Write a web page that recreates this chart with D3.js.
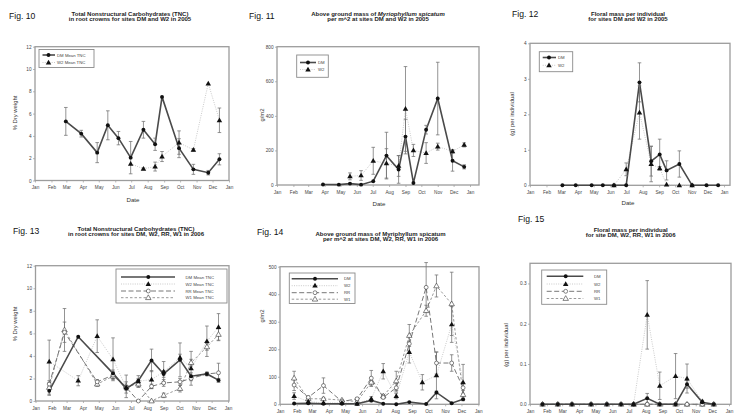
<!DOCTYPE html>
<html>
<head>
<meta charset="utf-8">
<script src="https://cdn.jsdelivr.net/npm/d3@7"></script>
<style>
  body { margin: 0; background: #fff; }
  svg { display: block; font-family: "Liberation Sans", Arial, sans-serif; }
</style>
</head>
<body>
<svg id="chart" width="745" height="417"></svg>
<script>
// ---- Fig 10: TNC in root crowns, 2005 ----
var fig10DMDates = ["2005-02-28","2005-03-29","2005-04-28","2005-05-18","2005-06-07","2005-06-30","2005-07-24","2005-08-15","2005-08-28","2005-09-29","2005-10-26","2005-11-23","2005-12-14"];
var fig10DM   = [5.3, 4.2, 2.5, 4.95, 3.8, 2.05, 4.55, 3.25, 7.5, 2.9, 1.0, 0.7, 1.9];
var fig10DMSE = [1.25, 0.3, 0.9, 1.3, 0.6, 1.45, 0.75, 0.55, 0, 0.85, 0.45, 0.2, 0.5];
var fig10W2Dates = ["2005-06-30","2005-07-24","2005-08-15","2005-08-28","2005-09-29","2005-10-26","2005-11-23","2005-12-14"];
var fig10W2   = [1.5, 1.05, 1.25, 2.15, 3.4, 2.75, 8.7, 5.4];
var fig10W2SE = [0, 0.08, 0.4, 0.45, 1.05, 0.12, 0, 1.1];

// ---- Fig 11: above ground mass, 2005 ----
var fig11DMDates = ["2005-03-29","2005-04-28","2005-05-19","2005-06-09","2005-07-02","2005-07-27","2005-08-19","2005-09-01","2005-09-16","2005-10-10","2005-11-01","2005-11-29","2005-12-21"];
var fig11DM   = [3, 2, 8, 2, 22, 170, 90, 280, 12, 320, 500, 140, 105];
var fig11DMSE = [0, 0, 0, 0, 0, 135, 80, 100, 0, 25, 210, 60, 12];
var fig11W2Dates = ["2005-05-19","2005-06-09","2005-07-02","2005-07-27","2005-08-19","2005-09-01","2005-09-16","2005-10-10","2005-11-01","2005-11-29","2005-12-21"];
var fig11W2   = [50, 55, 140, 125, 110, 440, 200, 185, 222, 195, 232];
var fig11W2SE = [20, 28, 78, 85, 60, 245, 35, 60, 20, 10, 12];

// ---- Fig 12: floral mass, 2005 ----
var fig12DMDates = ["2005-03-03","2005-03-28","2005-04-27","2005-05-18","2005-06-08","2005-07-01","2005-07-26","2005-08-17","2005-09-02","2005-09-15","2005-10-09","2005-11-02","2005-11-29","2005-12-21"];
var fig12DM   = [0, 0, 0, 0, 0, 0, 2.9, 0.68, 0.87, 0.42, 0.6, 0, 0, 0];
var fig12DMSE = [0, 0, 0, 0, 0, 0, 0.55, 0.42, 0.43, 0.27, 0.37, 0, 0, 0];
var fig12W2Dates = ["2005-06-08","2005-07-01","2005-07-26","2005-08-17","2005-09-02","2005-09-15","2005-10-09","2005-11-02"];
var fig12W2   = [0, 0.45, 2.05, 0.6, 0.48, 0.02, 0, 0];
var fig12W2SE = [0, 0.18, 0.75, 0.5, 0.05, 0, 0, 0];

// ---- Fig 13: TNC in root crowns, 2006 ----
var fig13DMDates = ["2006-01-27","2006-03-23","2006-05-28","2006-06-22","2006-07-15","2006-08-09","2006-09-01","2006-10-02","2006-10-23","2006-11-22","2006-12-14"];
var fig13DM   = [0.9, 5.7, 2.45, 1.1, 1.8, 3.6, 2.4, 3.65, 2.2, 2.4, 1.85];
var fig13DMSE = [0.4, 0, 0.3, 0.15, 0.2, 1.0, 0.3, 1.5, 0.3, 0.15, 0.15];
var fig13W2Dates = ["2006-01-27","2006-03-23","2006-04-28","2006-05-28","2006-06-22","2006-07-15","2006-08-09","2006-09-01","2006-10-02","2006-10-23","2006-11-22","2006-12-14"];
var fig13W2   = [3.5, 1.8, 5.75, 3.7, 1.2, 1.75, 1.9, 2.6, 3.85, 2.9, 5.3, 6.55];
var fig13W2SE = [1.9, 0.45, 1.45, 1.9, 0.5, 0.5, 0.8, 0.9, 0.3, 1.5, 1.35, 1.2];
var fig13RRDates = ["2006-01-27","2006-02-25","2006-04-28","2006-05-28","2006-06-22","2006-07-15","2006-08-09","2006-09-01","2006-10-02","2006-10-23","2006-11-22","2006-12-14"];
var fig13RR   = [1.5, 6.1, 1.7, 2.3, 1.2, 0.0, 1.3, 1.6, 1.7, 2.0, 2.4, 2.5];
var fig13RRSE = [0, 0.9, 0.2, 0.3, 0.15, 0, 0.2, 0.3, 0.3, 0.2, 0.15, 0.85];
var fig13W1Dates = fig13RRDates;
var fig13W1   = [1.2, 6.3, 1.5, 2.2, 1.3, 1.5, 0.0, 0.5, 1.1, 3.4, 4.8, 5.9];
var fig13W1SE = [0.6, 1.9, 0.2, 0.3, 1.0, 0.3, 0, 0.2, 0.3, 0.3, 0.3, 0.5];

// ---- Fig 14: above ground mass, 2006 ----
var fig14Dates = ["2006-01-27","2006-02-22","2006-03-22","2006-04-25","2006-05-23","2006-06-18","2006-07-10","2006-08-03","2006-08-27","2006-09-27","2006-10-16","2006-11-13","2006-12-04"];
var fig14W2Dates = ["2006-01-27","2006-02-22","2006-03-22","2006-04-25","2006-05-23","2006-06-18","2006-07-10","2006-08-03","2006-08-27","2006-09-20","2006-10-16","2006-11-13","2006-12-04"];
var fig14DM   = [3, 4, 2, 2, 2, 14, 2, 0, 8, 1, 43, 4, 18];
var fig14DMSE = [0, 0, 0, 0, 0, 5, 0, 0, 0, 0, 5, 0, 5];
var fig14W2   = [30, 10, 5, 5, 2, 20, 120, 30, 190, 80, 105, 290, 80];
var fig14W2SE = [12, 5, 0, 0, 0, 8, 28, 10, 40, 28, 85, 65, 65];
var fig14RR   = [70, 25, 68, 10, 20, 95, 25, 60, 220, 425, 150, 150, 60];
var fig14RRSE = [20, 5, 28, 3, 5, 28, 5, 15, 30, 90, 40, 30, 20];
var fig14W1   = [95, 20, 20, 15, 10, 80, 30, 85, 250, 340, 430, 365, 35];
var fig14W1SE = [25, 5, 5, 3, 5, 15, 5, 35, 40, 20, 40, 115, 15];

// ---- Fig 15: floral mass, 2006 ----
var fig15Dates = ["2006-01-24","2006-02-21","2006-03-19","2006-04-23","2006-05-22","2006-06-17","2006-07-10","2006-08-04","2006-08-27","2006-09-25","2006-10-16","2006-11-13","2006-12-04"];
var fig15DM   = [0, 0, 0, 0, 0, 0, 0, 0.015, 0, 0, 0.05, 0.005, 0];
var fig15DMSE = [0, 0, 0, 0, 0, 0, 0, 0.012, 0, 0, 0.01, 0.002, 0];
var fig15W2Dates = ["2006-07-10","2006-08-04","2006-08-27","2006-09-25","2006-10-16","2006-11-13"];
var fig15W2   = [0, 0.222, 0.046, 0.07, 0.064, 0.007];
var fig15W2SE = [0, 0.085, 0.034, 0.056, 0.036, 0.003];
var fig15RR   = [0, 0, 0, 0, 0, 0, 0, 0, 0, 0, 0, 0, 0];
var fig15W1   = [0, 0, 0, 0, 0, 0, 0, 0, 0, 0, 0, 0, 0];

var parseDate = d3.timeParse("%Y-%m-%d");
var svg = d3.select("#chart");

var STYLES = {
  DM: { stroke: "#4a4a4a", width: 1.6, dash: null, marker: "dot" },
  W2: { stroke: "#c4c4c4", width: 0.9, dash: "1,1.3", marker: "tri" },
  RR: { stroke: "#777", width: 1, dash: "5,2.5", marker: "ocirc" },
  W1: { stroke: "#999", width: 1, dash: "2.5,2", marker: "otri" }
};

function S(key, label, dates, values, se) {
  return { key: key, label: label, dates: dates, values: values, se: se || [] };
}

var panels = [
  { fig: "Fig. 10", figX: 9, figY: 19, titleX: 130, titleY: 16.3,
    title: [[["Total Nonstructural Carbohydrates (TNC)", false]], [["in root crowns for sites DM and W2 in 2005", false]]],
    year: 2005, x0: 35, x1: 229, frameR: 229, top: 46.7, bottom: 180.5,
    yMax: 12, yTicks: [0, 2, 4, 6, 8, 10, 12], yFmt: d3.format("d"),
    yLabel: "% Dry weight", yLabelX: 17, yLabelY: 113, dateX: 133, dateY: 202,
    series: [S("DM", "DM Mean TNC", fig10DMDates, fig10DM, fig10DMSE), S("W2", "W2 Mean TNC", fig10W2Dates, fig10W2, fig10W2SE)],
    legend: { x0: 39, y0: 49.5, x1: 94, y1: 67.5, rows: [55, 62.5], lx0: 42.5, lx1: 55, mx: 48.5, tx: 57 } },
  { fig: "Fig. 11", figX: 249, figY: 19, titleX: 378, titleY: 16.3,
    title: [[["Above ground mass of ", false], ["Myriophyllum spicatum", true]], [["per m^2 at sites DM and W2 in 2005", false]]],
    year: 2005, x0: 277, x1: 470, frameR: 479, top: 46.7, bottom: 185,
    yMax: 800, yTicks: [0, 200, 400, 600, 800], yFmt: d3.format("d"),
    yLabel: "g/m2", yLabelX: 263.5, yLabelY: 115, dateX: 379, dateY: 205.5,
    series: [S("DM", "DM", fig11DMDates, fig11DM, fig11DMSE), S("W2", "W2", fig11W2Dates, fig11W2, fig11W2SE)],
    legend: { x0: 296.7, y0: 55, x1: 328.3, y1: 77.3, rows: [62.5, 69.5], lx0: 300, lx1: 316, mx: 308, tx: 318 } },
  { fig: "Fig. 12", figX: 512, figY: 16.5, titleX: 628, titleY: 15.5,
    title: [[["Floral mass per individual", false]], [["for sites DM and W2 in 2005", false]]],
    year: 2005, x0: 530, x1: 724, frameR: 730, top: 43.3, bottom: 185.3,
    yMax: 4, yTicks: [0, 1, 2, 3, 4], yFmt: d3.format("d"),
    yLabel: "(g) per individual", yLabelX: 513.5, yLabelY: 114, dateX: 628, dateY: 205,
    series: [S("DM", "DM", fig12DMDates, fig12DM, fig12DMSE), S("W2", "W2", fig12W2Dates, fig12W2, fig12W2SE)],
    legend: { x0: 539.3, y0: 51.7, x1: 572.7, y1: 71.7, rows: [57.5, 65.3], lx0: 542.7, lx1: 556, mx: 549, tx: 558 } },
  { fig: "Fig. 13", figX: 13, figY: 234, titleX: 136, titleY: 231,
    title: [[["Total Nonstructural Carbohydrates (TNC)", false]], [["in root crowns for sites DM, W2, RR, W1 in 2006", false]]],
    year: 2006, x0: 35.5, x1: 228, frameR: 229, top: 265.7, bottom: 401,
    yMax: 12, yTicks: [0, 2, 4, 6, 8, 10, 12], yFmt: d3.format("d"),
    yLabel: "% Dry weight", yLabelX: 17, yLabelY: 324,
    series: [S("DM", "DM Mean TNC", fig13DMDates, fig13DM, fig13DMSE), S("W2", "W2 Mean TNC", fig13W2Dates, fig13W2, fig13W2SE),
             S("RR", "RR Mean TNC", fig13RRDates, fig13RR, fig13RRSE), S("W1", "W1 Mean TNC", fig13W1Dates, fig13W1, fig13W1SE)],
    legend: { x0: 116, y0: 269, x1: 227, y1: 303, rows: [277, 284, 291, 297.7], lx0: 121, lx1: 175, mx: 148.3, tx: 185.5 } },
  { fig: "Fig. 14", figX: 257, figY: 235, titleX: 380.5, titleY: 236.3,
    title: [[["Above ground mass of Myriphyllum spicatum", false]], [["per m^2 at sites DM, W2, RR, W1 in 2006", false]]],
    year: 2006, x0: 280, x1: 478.3, frameR: 479, top: 266.7, bottom: 404.3,
    yMax: 500, yTicks: [0, 100, 200, 300, 400, 500], yFmt: d3.format("d"),
    yLabel: "g/m2", yLabelX: 263.5, yLabelY: 316,
    series: [S("DM", "DM", fig14Dates, fig14DM, fig14DMSE), S("W2", "W2", fig14W2Dates, fig14W2, fig14W2SE),
             S("RR", "RR", fig14Dates, fig14RR, fig14RRSE), S("W1", "W1", fig14Dates, fig14W1, fig14W1SE)],
    legend: { x0: 289.3, y0: 273, x1: 355, y1: 303.5, rows: [278.7, 285.7, 292.7, 299.2], lx0: 291.7, lx1: 338, mx: 315, tx: 344 } },
  { fig: "Fig. 15", figX: 518, figY: 221.5, titleX: 630.7, titleY: 231.5,
    title: [[["Floral mass per individual", false]], [["for site DM, W2, RR, W1 in 2006", false]]],
    year: 2006, x0: 530, x1: 729, frameR: 731, top: 263.3, bottom: 404.3,
    yMax: 0.35, yTicks: [0, 0.1, 0.2, 0.3], yFmt: d3.format(".1f"),
    yLabel: "(g) per individual", yLabelX: 507.5, yLabelY: 345,
    series: [S("DM", "DM", fig15Dates, fig15DM, fig15DMSE), S("W2", "W2", fig15W2Dates, fig15W2, fig15W2SE),
             S("RR", "RR", fig15Dates, fig15RR), S("W1", "W1", fig15Dates, fig15W1)],
    legend: { x0: 541.7, y0: 270, x1: 606.7, y1: 304.3, rows: [276.3, 284, 291.3, 298.5], lx0: 546.7, lx1: 583.3, mx: 565.7, tx: 594 } }
];

function drawMarker(g, type, cx, cy) {
  var isTri = type === "tri" || type === "otri";
  var open = type === "ocirc" || type === "otri";
  g.append("path")
    .attr("d", d3.symbol().type(isTri ? d3.symbolTriangle : d3.symbolCircle).size(isTri ? 13 : 12)())
    .attr("transform", "translate(" + cx + "," + (cy + (isTri ? 0.3 : 0)) + ")")
    .attr("fill", open ? "#fff" : "#111")
    .attr("stroke", open ? "#333" : "none")
    .attr("stroke-width", 0.6);
}

function styleLine(sel, st) {
  sel.attr("fill", "none").attr("stroke", st.stroke).attr("stroke-width", st.width);
  if (st.dash) sel.attr("stroke-dasharray", st.dash);
  return sel;
}

function drawPanel(p) {
  var g = svg.append("g");
  var x = d3.scaleTime().domain([new Date(p.year, 0, 1), new Date(p.year + 1, 0, 1)]).range([p.x0, p.x1]);
  var y = d3.scaleLinear().domain([0, p.yMax]).range([p.bottom, p.top]);

  // figure number and title
  g.append("text").attr("x", p.figX).attr("y", p.figY).attr("font-size", 8.6).attr("fill", "#111").text(p.fig);
  p.title.forEach(function (line, i) {
    var t = g.append("text").attr("x", p.titleX).attr("y", p.titleY + i * 5)
      .attr("text-anchor", "middle").attr("font-size", 6).attr("font-weight", "bold").attr("fill", "#222");
    line.forEach(function (part) {
      t.append("tspan").attr("font-style", part[1] ? "italic" : "normal").text(part[0]);
    });
  });

  // axes
  var xa = d3.axisBottom(x).ticks(d3.timeMonth.every(1)).tickFormat(d3.timeFormat("%b")).tickSize(2).tickPadding(3.2);
  var gx = g.append("g").attr("transform", "translate(0," + p.bottom + ")").call(xa);
  var ya = d3.axisLeft(y).tickValues(p.yTicks).tickFormat(p.yFmt).tickSize(2).tickPadding(1.5);
  var gy = g.append("g").attr("transform", "translate(" + p.x0 + ",0)").call(ya);
  [gx, gy].forEach(function (a) {
    a.select(".domain").remove();
    a.selectAll(".tick line").attr("stroke", "#888").attr("stroke-width", 0.6);
    a.selectAll(".tick text").attr("fill", "#444").attr("font-size", 4.7)
      .attr("font-family", "'Liberation Sans', Arial, sans-serif");
  });

  g.append("rect").attr("x", p.x0).attr("y", p.top)
    .attr("width", p.frameR - p.x0).attr("height", p.bottom - p.top)
    .attr("fill", "none").attr("stroke", "#9c9c9c").attr("stroke-width", 1.3);

  g.append("text").attr("transform", "translate(" + p.yLabelX + "," + p.yLabelY + ") rotate(-90)")
    .attr("text-anchor", "middle").attr("font-size", 5.9).attr("fill", "#333").text(p.yLabel);
  if (p.dateX) {
    g.append("text").attr("x", p.dateX).attr("y", p.dateY).attr("text-anchor", "middle")
      .attr("font-size", 6.2).attr("fill", "#333").text("Date");
  }

  // series: lines, error bars, markers (DM drawn last so it sits on top)
  var line = d3.line().x(function (d) { return x(d.date); }).y(function (d) { return y(d.v); });
  var ordered = p.series.slice().reverse();
  var prepared = ordered.map(function (s) {
    return { s: s, pts: s.dates.map(function (d, i) { return { date: parseDate(d), v: s.values[i], se: s.se[i] || 0 }; }) };
  });
  prepared.forEach(function (o) {
    styleLine(g.append("path").datum(o.pts).attr("d", line), STYLES[o.s.key]);
  });
  prepared.forEach(function (o) {
    o.pts.forEach(function (d) {
      if (!d.se) return;
      var cx = x(d.date), yt = y(d.v + d.se), yb = y(Math.max(0, d.v - d.se));
      var eg = g.append("g").attr("stroke", "#707070").attr("stroke-width", 0.75);
      eg.append("line").attr("x1", cx).attr("x2", cx).attr("y1", yt).attr("y2", yb);
      eg.append("line").attr("x1", cx - 1.8).attr("x2", cx + 1.8).attr("y1", yt).attr("y2", yt);
      eg.append("line").attr("x1", cx - 1.8).attr("x2", cx + 1.8).attr("y1", yb).attr("y2", yb);
    });
  });
  prepared.forEach(function (o) {
    o.pts.forEach(function (d) { drawMarker(g, STYLES[o.s.key].marker, x(d.date), y(d.v)); });
  });

  // legend
  var L = p.legend;
  g.append("rect").attr("x", L.x0).attr("y", L.y0).attr("width", L.x1 - L.x0).attr("height", L.y1 - L.y0)
    .attr("fill", "#fff").attr("stroke", "#8a8a8a").attr("stroke-width", 0.9);
  p.series.forEach(function (s, i) {
    var ry = L.rows[i], st = STYLES[s.key];
    styleLine(g.append("line").attr("x1", L.lx0).attr("x2", L.lx1).attr("y1", ry).attr("y2", ry), st);
    drawMarker(g, st.marker, L.mx, ry);
    g.append("text").attr("x", L.tx).attr("y", ry + 1.5).attr("font-size", 4.3).attr("fill", "#444").text(s.label);
  });
}

panels.forEach(drawPanel);
</script>
</body>
</html>
